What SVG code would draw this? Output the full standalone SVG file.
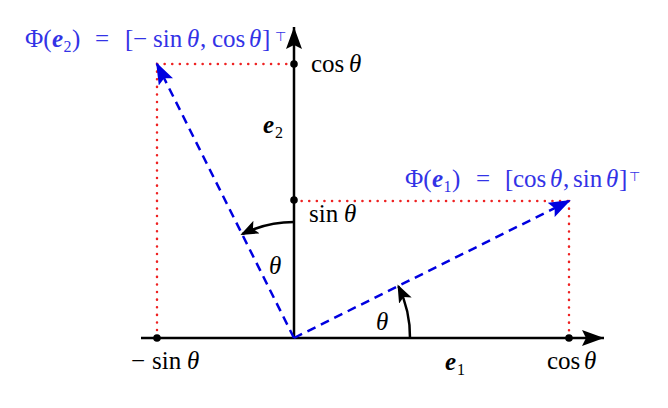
<svg xmlns="http://www.w3.org/2000/svg" width="668" height="408" viewBox="0 0 668 408">
<style>
text{font-family:"Liberation Serif","DejaVu Serif",serif;font-size:25px;fill:#000}
.blue{fill:#3333e6}
.it{font-style:italic}
.bi{font-style:italic;font-weight:bold}
.sub{font-size:16px}
.sup{font-size:13px;font-family:"DejaVu Sans",sans-serif}
.axis{stroke:#000;stroke-width:2.5;fill:none}
.vec{stroke:#0000e0;stroke-width:2.5;stroke-dasharray:9,6;fill:none}
.dot{stroke:#ee2222;stroke-width:2.5;stroke-dasharray:0.1,7.5;stroke-linecap:round;fill:none}
.arc{stroke:#000;stroke-width:2.5;fill:none}
</style>
<defs>
<marker id="ah" markerWidth="22" markerHeight="16" refX="22" refY="8" orient="auto" markerUnits="userSpaceOnUse">
<path d="M0,0 L22,8 L0,16 L4,8 Z" fill="#000"/>
</marker>
<marker id="ahs" markerWidth="18" markerHeight="14" refX="16" refY="7" orient="auto" markerUnits="userSpaceOnUse">
<path d="M0,0 L18,7 L0,14 L4,7 Z" fill="#000"/>
</marker>
<marker id="bh" markerWidth="22" markerHeight="16" refX="20" refY="8" orient="auto" markerUnits="userSpaceOnUse">
<path d="M0,0 L22,8 L0,16 L4,8 Z" fill="#0000e0"/>
</marker>
</defs>
<g id="connectors">
<path class="dot" d="M157,64 H294"/>
<path class="dot" d="M157,64 V338"/>
<path class="dot" d="M294,201 H569"/>
<path class="dot" d="M569,201 V338"/>
<line class="axis" x1="141" y1="338" x2="604" y2="338" marker-end="url(#ah)"/>
<line class="axis" x1="294" y1="338" x2="294" y2="27" marker-end="url(#ah)"/>
<line class="vec" x1="294" y1="338" x2="569" y2="201" marker-end="url(#bh)"/>
<line class="vec" x1="294" y1="338" x2="157" y2="64" marker-end="url(#bh)"/>
<path class="arc" d="M410,338 A116,116 0 0 0 398.4,286.2" marker-end="url(#ahs)"/>
<path class="arc" d="M294,222 A116,116 0 0 0 242.2,234.2" marker-end="url(#ahs)"/>
</g>
<g id="points">
<circle cx="294" cy="64" r="3.8"/>
<circle cx="294" cy="200" r="3.8"/>
<circle cx="157" cy="338" r="3.8"/>
<circle cx="569" cy="338" r="3.8"/>
</g>
<g id="label-phi-e2"><text class="blue" y="47"><tspan x="25">Φ(</tspan><tspan class="bi" x="52">e</tspan><tspan class="sub" x="63.5" y="52">2</tspan><tspan x="72" y="47">)</tspan><tspan x="95">=</tspan><tspan x="125">[</tspan><tspan x="133">−</tspan><tspan x="153">sin</tspan><tspan class="it" x="187">θ</tspan><tspan x="200">,</tspan><tspan x="212">cos</tspan><tspan class="it" x="249">θ</tspan><tspan x="262">]</tspan><tspan class="sup" x="275" y="41">⊤</tspan></text></g>
<g id="label-phi-e1"><text class="blue" y="187"><tspan x="405">Φ(</tspan><tspan class="bi" x="432">e</tspan><tspan class="sub" x="443.5" y="192">1</tspan><tspan x="452" y="187">)</tspan><tspan x="476">=</tspan><tspan x="505">[</tspan><tspan x="513">cos</tspan><tspan class="it" x="550">θ</tspan><tspan x="563">,</tspan><tspan x="573">sin</tspan><tspan class="it" x="606">θ</tspan><tspan x="619">]</tspan><tspan class="sup" x="629" y="181">⊤</tspan></text></g>
<g id="label-cos-y"><text y="72"><tspan x="311">cos</tspan><tspan class="it" x="349">θ</tspan></text></g>
<g id="label-e2"><text y="133"><tspan class="bi" x="263">e</tspan><tspan class="sub" x="275" y="138">2</tspan></text></g>
<g id="label-sin-y"><text y="222"><tspan x="309">sin</tspan><tspan class="it" x="344">θ</tspan></text></g>
<g id="label-theta2"><text class="it" x="269" y="274">θ</text></g>
<g id="label-theta1"><text class="it" x="376" y="330">θ</text></g>
<g id="label-msin"><text y="369"><tspan x="131">−</tspan><tspan x="152">sin</tspan><tspan class="it" x="187">θ</tspan></text></g>
<g id="label-e1"><text y="370"><tspan class="bi" x="445">e</tspan><tspan class="sub" x="457" y="375">1</tspan></text></g>
<g id="label-cos-x"><text y="369"><tspan x="547">cos</tspan><tspan class="it" x="584">θ</tspan></text></g>
</svg>
